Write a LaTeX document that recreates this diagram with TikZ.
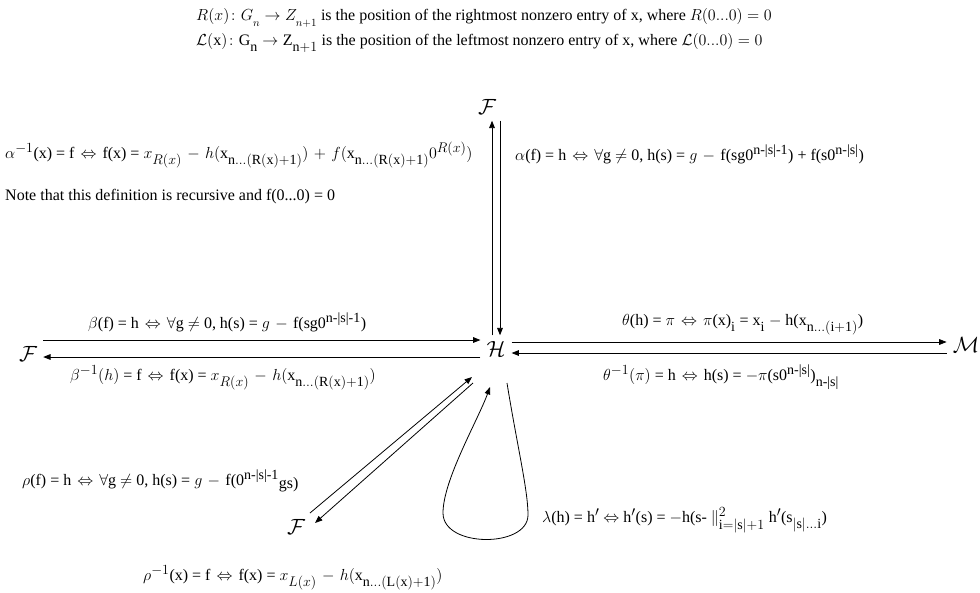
\RequirePackage{fix-cm}
\documentclass[tikz,border=0pt]{standalone}
\usepackage{amsmath,amssymb}
\usepackage{fontspec}
\setmainfont{Liberation Serif}
\DeclareMathSizes{16}{16}{14}{11}
\everymath{\fontdimen16\textfont2=6.5pt \fontdimen17\textfont2=6.5pt \medmuskip=6mu}
\newcommand{\iffar}{\hspace{2pt}$\Leftrightarrow$\hspace{6pt}}
\usepackage{tikz}
\usetikzlibrary{calc,arrows.meta,positioning}
\tikzset{
  ar/.style={-{Triangle[length=2.6mm,width=2mm]},line width=0.8pt},
  obj/.style={inner sep=6pt,font=\fontsize{22}{24}\selectfont},
  lbl/.style={anchor=base west,inner sep=0pt,font=\fontsize{16}{18}\selectfont}
}
\begin{document}
\begin{tikzpicture}[x=1pt,y=-1pt]
\useasboundingbox (0,0) rectangle (980,592);
% objects
\node[obj] (Ft) at (487,107) {$\mathcal{F}$};
\node[obj] (H)  at (496,349) {$\mathcal{H}$};
\node[obj] (Fl) at (28,354)  {$\mathcal{F}$};
\node[obj] (M)  at (966,345) {$\mathcal{M}$};
\node[obj] (Fb) at (296,527) {$\mathcal{F}$};
% definitions of R and L
\node[lbl] (defR) at (196,20) {$R(x)\colon G_{\scriptscriptstyle n}\to Z_{\scriptscriptstyle n+1}$ is the position of the rightmost nonzero entry of x, where $R(0...0)=0$};
\node[lbl] (defL) at (196,45) {$\mathcal{L}(\mathrm{x})\colon\mathrm{G}_{\mathrm{n}}\to\mathrm{Z}_{\mathrm{n}+1}$ is the position of the leftmost nonzero entry of x, where $\mathcal{L}(0...0)=0$};
% alpha
\node[lbl] (alinv) at (5,158) {$\alpha^{-1}$(x) = f \iffar{}f(x) = $x_{R(x)}-h($x$_{\mathrm{n...(R(x)+1)}})+f($x$_{\mathrm{n...(R(x)+1)}}0^{R(x)})$};
\node[lbl] (note) at (5,200) {Note that this definition is recursive and f(0...0) = 0};
\node[lbl] (al) at (515,160) {$\alpha$(f) = h \iffar{}$\forall$g $\neq$ 0, h(s) = $g-{}$f(sg0$^{\text{n-|s|-1}}$) + f(s0$^{\text{n-|s|}}$)};
\draw[ar] (H.north -| 492,0) -- (Ft.south -| 492,0);
\draw[ar] (Ft.south -| 500,0) -- (H.north -| 500,0);
% beta
\node[lbl] (be) at (88,328) {$\beta$(f) = h \iffar{}$\forall$g $\neq$ 0, h(s) = $g-{}$f(sg0$^{\text{n-|s|-1}}$)};
\node[lbl] (beinv) at (70,380) {$\beta^{-1}(h)$ = f \iffar{}f(x) = $x_{R(x)}-h($x$_{\mathrm{n...(R(x)+1)}})$};
\draw[ar] (Fl.east |- 0,340) -- (H.west |- 0,340);
\draw[ar] (H.west |- 0,357) -- (Fl.east |- 0,357);
% theta
\node[lbl] (th) at (622,325) {$\theta$(h) = $\pi$ \iffar{}$\pi$(x)$_{\mathrm{i}}$ = x$_{\mathrm{i}}$ $-$ h(x$_{\mathrm{n...(i+1)}}$)};
\node[lbl] (thinv) at (603,380) {$\theta^{-1}(\pi)$ = h \iffar{}h(s) = $-\pi$(s0$^{\text{n-|s|}}$)$_{\text{n-|s|}}$};
\draw[ar] (H.east |- 0,342) -- (M.west |- 0,342);
\draw[ar] (M.west |- 0,353) -- (H.east |- 0,353);
% rho
\node[lbl] (rh) at (22,485) {$\rho$(f) = h \iffar{}$\forall$g $\neq$ 0, h(s) = $g-{}$f(0$^{\text{n-|s|-1}}$\raisebox{-0.5ex}{gs)}};
\node[lbl] (rhinv) at (143,580) {$\rho^{-1}$(x) = f \iffar{}f(x) = $x_{L(x)}-h($x$_{\mathrm{n...(L(x)+1)}})$};
\draw[ar] ($(Fb)+(14,-14)$) -- ($(H)+(-24,28)$);
\draw[ar] ($(H)+(-23,34)$) -- ($(Fb)+(19,-4)$);
% lambda loop
\node[lbl] (la) at (542,522) {$\lambda$(h) = h$'$ $\Leftrightarrow$ h$'$(s) = $-$h(s- $\|^{2}_{\mathrm{i}=|\mathrm{s}|+1}$ h$'$(s$_{|\mathrm{s}|...\mathrm{i}}$)};
\draw[ar] ($(H)+(11,34)$) .. controls (517,445) and (528,490) .. (528,515)
  .. controls (528,548) and (443,548) .. (443,513)
  .. controls (443,480) and (478,420) .. ($(H)+(-6,38)$);
\end{tikzpicture}
\end{document}
